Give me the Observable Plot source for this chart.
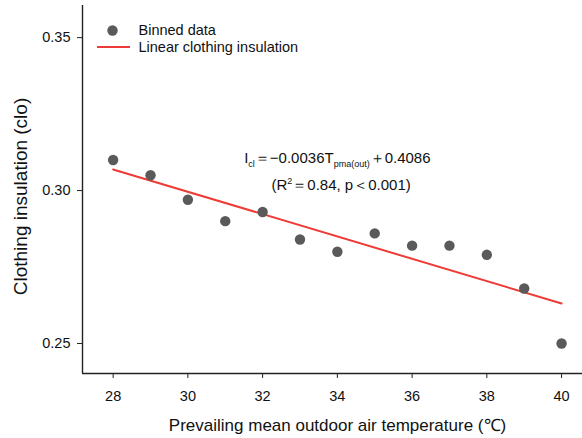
<!DOCTYPE html>
<html>
<head>
<meta charset="utf-8">
<script src="https://cdn.jsdelivr.net/npm/d3@7"></script>
<script src="https://cdn.jsdelivr.net/npm/@observablehq/plot@0.6"></script>
<style>
  html, body { margin: 0; padding: 0; background: #fff; }
  #chart { width: 582px; height: 438px; }
  svg { font-family: "Liberation Sans", Arial, sans-serif; }
</style>
</head>
<body>
<div id="chart"></div>
<script>
// ---- data ----
const temps = [28, 29, 30, 31, 32, 33, 34, 35, 36, 37, 38, 39, 40];
const clo = [0.310, 0.305, 0.297, 0.290, 0.293, 0.284, 0.280, 0.286, 0.282, 0.282, 0.279, 0.268, 0.250];
const fitX = [28, 40];
const fitY = [0.3069, 0.2631];
const xTicks = [28, 30, 32, 34, 36, 38, 40];
const yTicks = [0.25, 0.30, 0.35];
const xDomain = [27.18, 40.56];
const yDomain = [0.2402, 0.3605];
const xTitle = "Prevailing mean outdoor air temperature (℃)";
const yTitle = "Clothing insulation (clo)";
const legendLabels = ["Binned data", "Linear clothing insulation"];
const eqPos = {x: 34, y: 0.3105};
const r2Pos = {x: 34.1, y: 0.3016};
const r2Text = "(R²＝0.84, p＜0.001)";

const points = temps.map((t, i) => ({t, c: clo[i]}));
const fit = fitX.map((t, i) => ({t, c: fitY[i]}));

const dotColor = "#5a5a5a";
const red = "#ef3b36";

const plot = Plot.plot({
  width: 582,
  height: 438,
  marginLeft: 82,
  marginRight: 0,
  marginTop: 5,
  marginBottom: 65,
  style: {fontFamily: "Liberation Sans, Arial, sans-serif", background: "#fff", color: "#111"},
  x: {domain: xDomain, ticks: xTicks, label: null},
  y: {domain: yDomain, ticks: yTicks, label: null},
  marks: [
    Plot.axisX({ticks: xTicks, tickSize: 5, tickPadding: 12, fontSize: 14.5, label: null, tickFormat: d => String(d), stroke: "#222"}),
    Plot.axisY({ticks: yTicks, tickSize: 5, tickPadding: 7, fontSize: 14.5, label: null, tickFormat: d3.format(".2f"), stroke: "#222"}),
    Plot.ruleX([xDomain[0]], {stroke: "#222", strokeWidth: 1.4}),
    Plot.ruleY([yDomain[0]], {stroke: "#222", strokeWidth: 1.4}),
    Plot.line(fit, {x: "t", y: "c", stroke: red, strokeWidth: 2}),
    Plot.dot(points, {x: "t", y: "c", r: 5.2, fill: dotColor, stroke: "none"}),
    Plot.text([eqPos], {x: "x", y: "y", text: () => "EQ", fontSize: 15, fill: "#111", textAnchor: "middle", className: "eqmark"}),
    Plot.text([r2Pos], {x: "x", y: "y", text: () => r2Text, fontSize: 15, fill: "#111", textAnchor: "middle", className: "r2mark"}),
    Plot.text([xTitle], {frameAnchor: "bottom", dx: 5, dy: 52, text: d => d, fontSize: 17, fill: "#111", textAnchor: "middle", lineAnchor: "middle"}),
    Plot.text([yTitle], {frameAnchor: "left", dx: -62, dy: 7, rotate: -90, text: d => d, fontSize: 19, fill: "#111", textAnchor: "middle", lineAnchor: "middle"}),
    // legend
    Plot.dot([legendLabels[0]], {frameAnchor: "top-left", dx: 30, dy: 25, r: 5.2, fill: dotColor, stroke: "none"}),
    Plot.text([legendLabels[0]], {frameAnchor: "top-left", dx: 56, dy: 25, text: d => d, textAnchor: "start", lineAnchor: "middle", fontSize: 14.5, fill: "#111"}),
    Plot.text([legendLabels[1]], {frameAnchor: "top-left", dx: 56, dy: 42, text: d => d, textAnchor: "start", lineAnchor: "middle", fontSize: 14.5, fill: "#111"})
  ]
});

// rich text for the equation (subscripts)
const svg = d3.select(plot);
const eq = svg.select(".eqmark text");
eq.text(null);
eq.append("tspan").text("I");
eq.append("tspan").attr("font-size", 9).attr("dy", 4).text("cl");
eq.append("tspan").attr("dy", -4).text("＝−0.0036T");
eq.append("tspan").attr("font-size", 9).attr("dy", 4).text("pma(out)");
eq.append("tspan").attr("dy", -4).text("＋0.4086");

const r2 = svg.select(".r2mark text");
r2.text(null);
r2.append("tspan").text("(R");
r2.append("tspan").attr("font-size", 9).attr("dy", -6).text("2");
r2.append("tspan").attr("dy", 6).text("＝0.84, p＜0.001)");

// legend line swatch
svg.append("line")
  .attr("x1", 97).attr("x2", 130).attr("y1", 47).attr("y2", 47)
  .attr("stroke", red).attr("stroke-width", 2);

document.getElementById("chart").appendChild(plot);
</script>
</body>
</html>
